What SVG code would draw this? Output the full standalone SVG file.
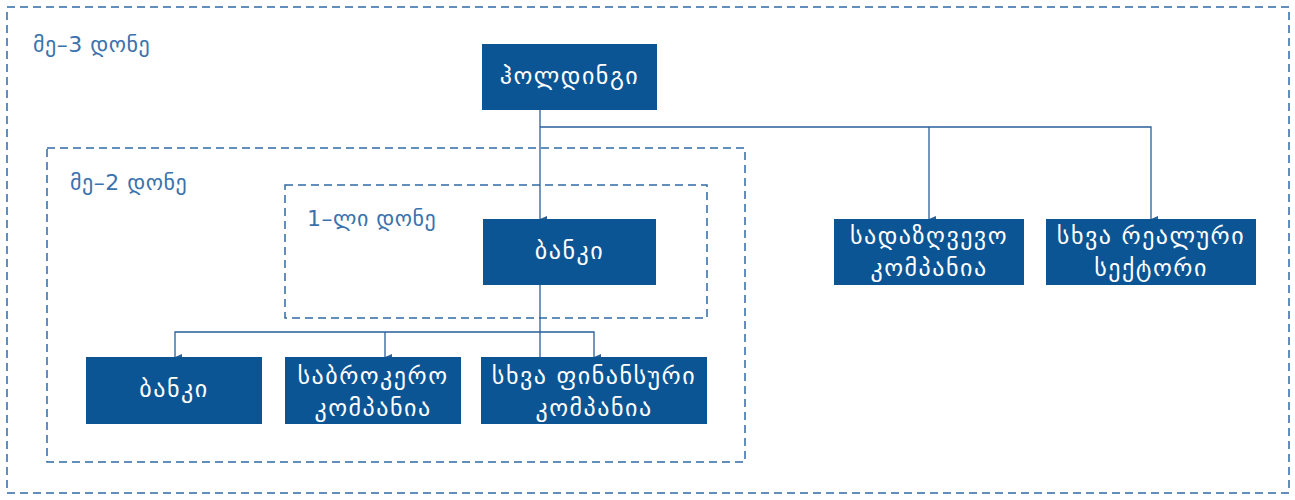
<svg xmlns="http://www.w3.org/2000/svg" width="1295" height="500" viewBox="0 0 1295 500">
<defs>
<marker id="arr" viewBox="0 0 6 7" refX="3" refY="7" markerWidth="6" markerHeight="7" markerUnits="userSpaceOnUse" orient="auto-start-reverse">
<path d="M0,0 L6,0 L3,7 z" fill="#2a5f9a"/>
</marker>
<style>
.zone{fill:none;stroke:#2f6aa6;stroke-width:1.5;stroke-dasharray:8 5}
.zl{font-family:"DejaVu Sans",sans-serif;font-size:22px;fill:#3a72ad;letter-spacing:0.5px}
.box{fill:#0c5595}
.bt{font-family:"DejaVu Sans",sans-serif;font-size:24px;fill:#ffffff;text-anchor:middle;letter-spacing:1.5px}
.c{fill:none;stroke:#2a5f9a;stroke-width:1.3}
</style>
</defs>
<rect width="1295" height="500" fill="#ffffff"/>
<g id="zone3"><rect class="zone" x="7" y="7" width="1282" height="486"/><text class="zl" x="33" y="52">მე–3 დონე</text></g>
<g id="zone2"><rect class="zone" x="47" y="148" width="698" height="314"/><text class="zl" x="70" y="190">მე–2 დონე</text></g>
<g id="zone1"><rect class="zone" x="285" y="185" width="422" height="133"/><text class="zl" x="307" y="226">1–ლი დონე</text></g>
<g id="connectors">
<path class="c" d="M540,110 V219" marker-end="url(#arr)"/>
<path class="c" d="M540,127 H1151 V219" marker-end="url(#arr)"/>
<path class="c" d="M929,127 V219" marker-end="url(#arr)"/>
<path class="c" d="M540,285 V357"/>
<path class="c" d="M540,332 H175 V357" marker-end="url(#arr)"/>
<path class="c" d="M385,332 V357" marker-end="url(#arr)"/>
<path class="c" d="M540,332 H594 V357" marker-end="url(#arr)"/>
</g>
<g id="holding"><rect class="box" x="482" y="44" width="175" height="66"/><text class="bt" x="569.5" y="84">ჰოლდინგი</text></g>
<g id="bank1"><rect class="box" x="483" y="219" width="173" height="66"/><text class="bt" x="569.5" y="259">ბანკი</text></g>
<g id="insurance"><rect class="box" x="834" y="219" width="190" height="66"/><text class="bt" x="929" y="244">სადაზღვევო</text><text class="bt" x="929" y="276">კომპანია</text></g>
<g id="realsector"><rect class="box" x="1046" y="219" width="210" height="66"/><text class="bt" x="1151" y="244">სხვა რეალური</text><text class="bt" x="1151" y="276">სექტორი</text></g>
<g id="bank2"><rect class="box" x="86" y="357" width="176" height="67"/><text class="bt" x="174" y="397">ბანკი</text></g>
<g id="brokerage"><rect class="box" x="285" y="357" width="176" height="67"/><text class="bt" x="373" y="384">საბროკერო</text><text class="bt" x="373" y="416">კომპანია</text></g>
<g id="otherfin"><rect class="box" x="481" y="357" width="226" height="67"/><text class="bt" x="594" y="384">სხვა ფინანსური</text><text class="bt" x="594" y="416">კომპანია</text></g>
</svg>
